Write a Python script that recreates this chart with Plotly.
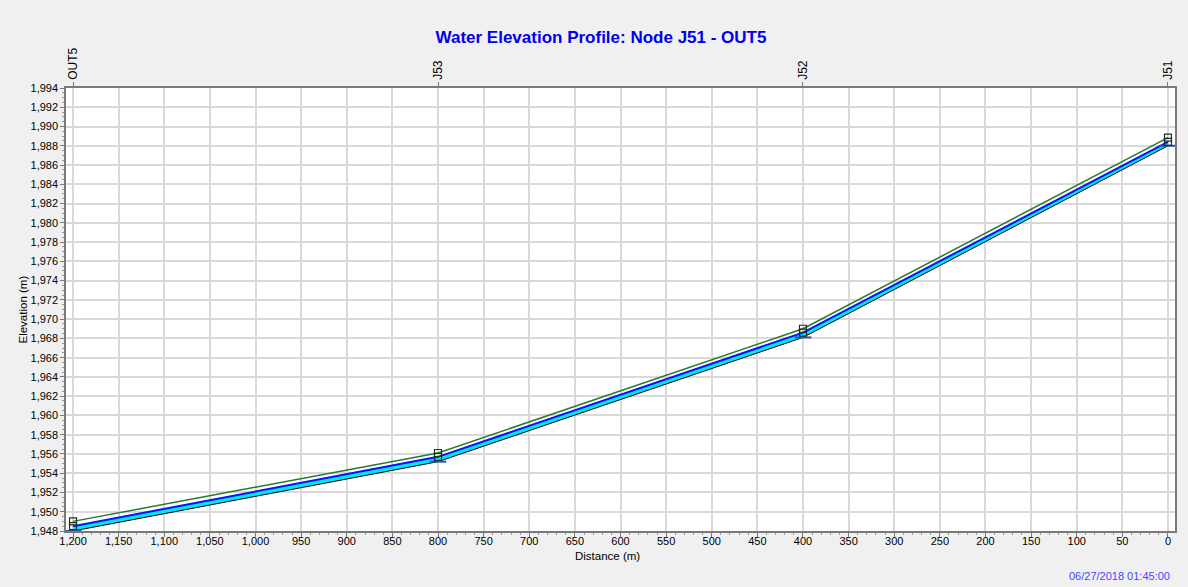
import plotly.graph_objects as go

distance = [1200, 800, 400, 0]
nodes = ["OUT5", "J53", "J52", "J51"]
invert = [1948.0, 1955.2, 1968.1, 1988.0]
water = [1948.5, 1955.7, 1968.6, 1988.4]
energy = [1949.0, 1956.1, 1969.0, 1988.85]
timestamp = "06/27/2018 01:45:00"

W, H = 1188, 587
L, R, T, B = 66, 13, 88, 56
PW, PH = W - L - R, H - T - B
FONT = "Liberation Sans, Arial, sans-serif"

fig = go.Figure()
fig.add_trace(go.Scatter(x=distance, y=invert, mode="lines",
                         line=dict(color="#000000", width=1), showlegend=False))
fig.add_trace(go.Scatter(x=distance, y=water, mode="lines", fill="tonexty",
                         fillcolor="#00e8ff", line=dict(color="#1010ff", width=2),
                         showlegend=False))
fig.add_trace(go.Scatter(x=distance, y=energy, mode="lines",
                         line=dict(color="#2a7a2a", width=1.5), showlegend=False))
fig.add_trace(go.Scatter(x=distance, y=invert, mode="markers",
                         marker=dict(symbol="line-ew-open", size=12, color="#3050b0",
                                     line=dict(color="#3050b0", width=2)),
                         showlegend=False))
fig.add_trace(go.Scatter(x=distance, y=water, mode="markers",
                         marker=dict(symbol="square-open", size=7, color="#1a3320",
                                     line=dict(color="#1a3320", width=1.2)),
                         showlegend=False))
fig.add_trace(go.Scatter(x=distance, y=energy, mode="markers",
                         marker=dict(symbol="square-open", size=7, color="#1a3320",
                                     line=dict(color="#1a3320", width=1.2)),
                         showlegend=False))
fig.add_trace(go.Scatter(x=distance, y=energy, mode="markers", xaxis="x2",
                         marker=dict(opacity=0), hoverinfo="skip", showlegend=False))

xr = [1207.7, -7.7]
tickfont = dict(family=FONT, size=11, color="#000000")

fig.update_layout(
    width=W, height=H,
    margin=dict(l=L, r=R, t=T, b=B),
    paper_bgcolor="#f0f0f0",
    plot_bgcolor="#ffffff",
    title=dict(text="<b>Water Elevation Profile: Node J51 - OUT5</b>",
               x=601 / W, xanchor="center", y=1 - 37 / H, yanchor="middle",
               font=dict(family=FONT, size=17, color="#0000ee")),
    xaxis=dict(range=xr, autorange=False, dtick=50, tick0=0, tickformat=",",
               showgrid=True, gridcolor="#d9d9d9", gridwidth=1.5,
               showline=True, linecolor="#7a7a7a", linewidth=1.5, mirror=False,
               ticks="outside", ticklen=4, tickcolor="#7a7a7a",
               ticklabelstandoff=-5,
               minor=dict(dtick=10, ticks="outside", ticklen=2, tickcolor="#9a9a9a",
                          showgrid=False),
               tickfont=tickfont, zeroline=False),
    xaxis2=dict(range=xr, autorange=False, overlaying="x", side="top", anchor="y",
                tickvals=distance, ticktext=nodes, tickangle=-90,
                ticks="outside", ticklen=4, tickcolor="#7a7a7a",
                showline=True, linecolor="#7a7a7a", linewidth=1.5,
                showgrid=False, zeroline=False,
                tickfont=dict(family=FONT, size=12, color="#000000")),
    yaxis=dict(range=[1948, 1994], autorange=False, dtick=2, tick0=1948,
               tickformat=",d",
               showgrid=True, gridcolor="#d9d9d9", gridwidth=1.5,
               showline=True, linecolor="#7a7a7a", linewidth=1.5, mirror=True,
               ticks="outside", ticklen=4, tickcolor="#7a7a7a",
               minor=dict(dtick=0.5, ticks="outside", ticklen=2, tickcolor="#9a9a9a",
                          showgrid=False),
               tickfont=tickfont, zeroline=False),
    annotations=[
        dict(text="Distance (m)", xref="paper", yref="paper",
             x=(607 - L) / PW, y=-(556 - 531) / PH,
             xanchor="center", yanchor="middle", showarrow=False,
             font=dict(family=FONT, size=11.5, color="#000")),
        dict(text="Elevation (m)", xref="paper", yref="paper", textangle=-90,
             x=-(L - 22) / PW, y=0.5,
             xanchor="center", yanchor="middle", showarrow=False,
             font=dict(family=FONT, size=11.5, color="#000")),
        dict(text=timestamp, xref="paper", yref="paper",
             x=(1172 - L) / PW, y=-(576 - 531) / PH,
             xanchor="right", yanchor="middle", showarrow=False,
             font=dict(family=FONT, size=11, color="#4646ff")),
    ],
)

fig.write_html("out.html", config={"displayModeBar": False},
               post_script="document.body.style.margin='0';document.body.style.background='#f0f0f0';")
